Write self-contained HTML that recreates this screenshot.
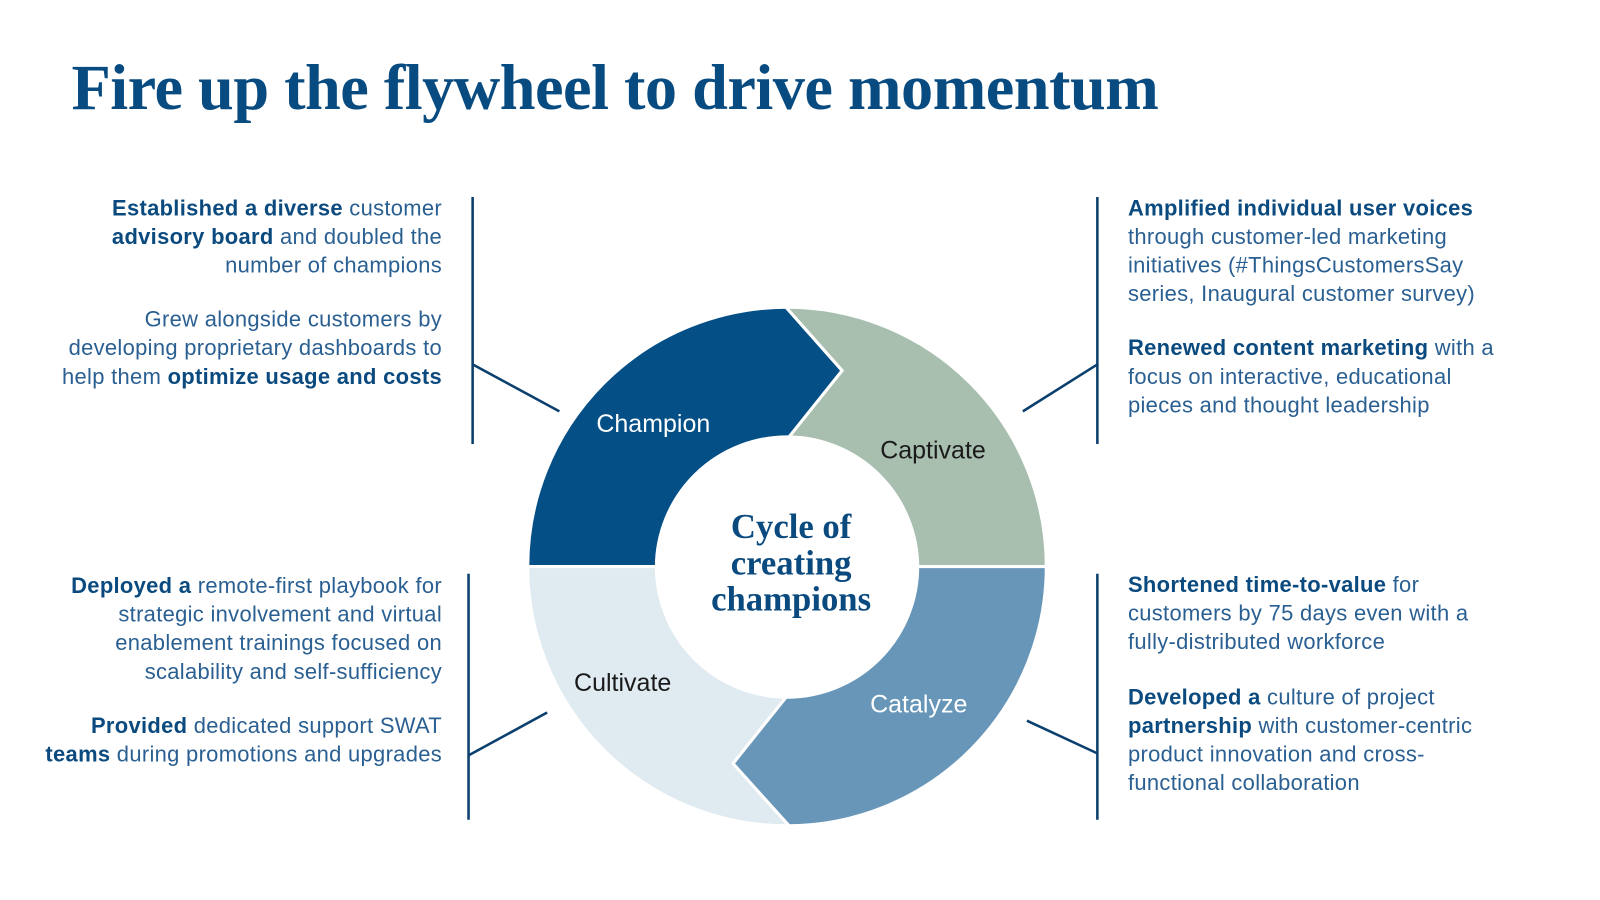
<!DOCTYPE html>
<html><head><meta charset="utf-8"><style>
body{margin:0;width:1600px;height:900px;background:#fff;overflow:hidden;font-family:"Liberation Sans",sans-serif;color:#1d5588}
#c{position:absolute;left:0;top:0;width:1568px;height:882px;transform:scale(1.0208);transform-origin:0 0}
h1{position:absolute;left:70px;top:50px;margin:0;font-family:"Liberation Serif",serif;font-weight:bold;font-size:63px;color:#084b80;letter-spacing:-0.5px;white-space:nowrap}
.t{position:absolute;font-size:21.5px;letter-spacing:0.3px;line-height:28px;white-space:nowrap;color:#2a5f92}
.t b{color:#0b4a7e;font-weight:bold}
.r{text-align:right}
</style></head><body><div id="c">
<h1>Fire up the flywheel to drive momentum</h1>
<svg width="1568" height="882" style="position:absolute;left:0;top:0">
<g stroke="#fff" stroke-width="3" stroke-linejoin="miter">
<path d="M517 555 A254 254 0 0 1 770 301 L825 363 L773 428 A128 128 0 0 0 643 555 Z" fill="#034f86"/>
<path d="M770 301 A254 254 0 0 1 1025 555 L899 555 A128 128 0 0 0 773 428 L825 363 Z" fill="#a8bfb0"/>
<path d="M1025 555 A254 254 0 0 1 773 809 L718 748 L770 683 A128 128 0 0 0 899 555 Z" fill="#6896b8"/>
<path d="M517 555 L643 555 A128 128 0 0 0 770 683 L718 748 L773 809 A254 254 0 0 1 517 555 Z" fill="#e0eaf1"/>
</g>
<g stroke="#0b3f6e" stroke-width="2.5" fill="none">
<line x1="463" y1="193" x2="463" y2="435"/><line x1="463" y1="357" x2="548" y2="403"/>
<line x1="459" y1="562" x2="459" y2="803"/><line x1="459" y1="740" x2="536" y2="698"/>
<line x1="1075" y1="193" x2="1075" y2="435"/><line x1="1075" y1="357" x2="1002" y2="403"/>
<line x1="1075" y1="562" x2="1075" y2="803"/><line x1="1075" y1="738" x2="1006" y2="706"/>
</g>
<g font-family="Liberation Sans,sans-serif" font-size="24.5">
<text x="640" y="423" fill="#fff" text-anchor="middle">Champion</text>
<text x="914" y="449" fill="#1a1a1a" text-anchor="middle">Captivate</text>
<text x="610" y="677" fill="#1a1a1a" text-anchor="middle">Cultivate</text>
<text x="900" y="698" fill="#fff" text-anchor="middle">Catalyze</text>
</g>
<g font-family="Liberation Serif,serif" font-weight="bold" font-size="34" fill="#0b4a7e" text-anchor="middle">
<text x="775" y="527">Cycle of</text>
<text x="775" y="563">creating</text>
<text x="775" y="598">champions</text>
</g>
</svg>
<div class="t r" style="right:1135px;top:190px"><b>Established a diverse</b> customer<br><b>advisory board</b> and doubled the<br>number of champions</div>
<div class="t r" style="right:1135px;top:299px">Grew alongside customers by<br>developing proprietary dashboards to<br>help them <b>optimize usage and costs</b></div>
<div class="t r" style="right:1135px;top:560px"><b>Deployed a</b> remote-first playbook for<br>strategic involvement and virtual<br>enablement trainings focused on<br>scalability and self-sufficiency</div>
<div class="t r" style="right:1135px;top:697px"><b>Provided</b> dedicated support SWAT<br><b>teams</b> during promotions and upgrades</div>
<div class="t" style="left:1105px;top:190px"><b>Amplified individual user voices</b><br>through customer-led marketing<br>initiatives (#ThingsCustomersSay<br>series, Inaugural customer survey)</div>
<div class="t" style="left:1105px;top:327px"><b>Renewed content marketing</b> with a<br>focus on interactive, educational<br>pieces and thought leadership</div>
<div class="t" style="left:1105px;top:559px"><b>Shortened time-to-value</b> for<br>customers by 75 days even with a<br>fully-distributed workforce</div>
<div class="t" style="left:1105px;top:669px"><b>Developed a</b> culture of project<br><b>partnership</b> with customer-centric<br>product innovation and cross-<br>functional collaboration</div>
</div></body></html>
